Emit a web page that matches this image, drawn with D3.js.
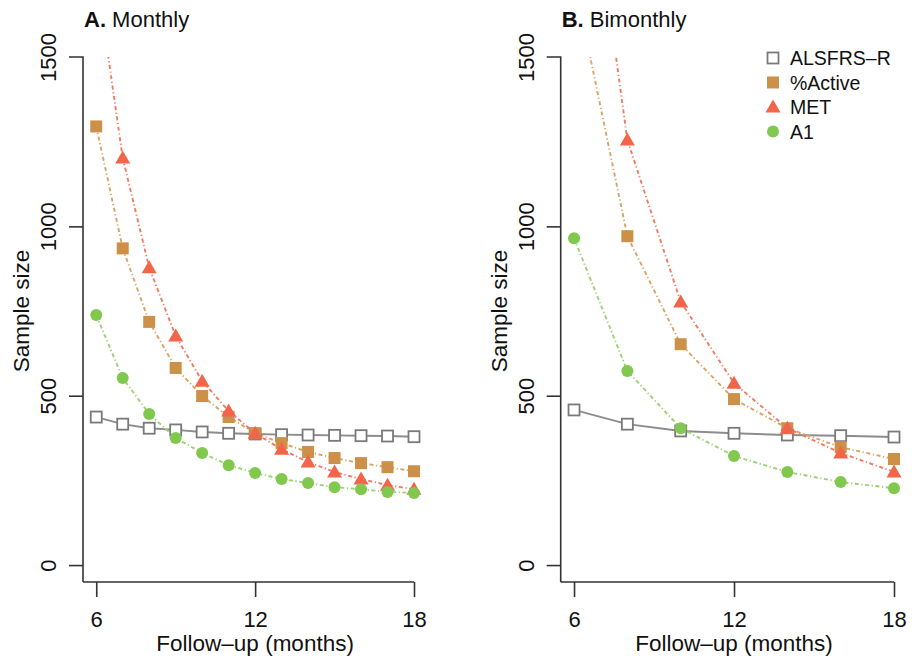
<!DOCTYPE html>
<html>
<head>
<meta charset="utf-8">
<script src="https://cdn.jsdelivr.net/npm/d3@7"></script>
<style>
  html, body { margin: 0; padding: 0; background: #fff; }
  svg { display: block; font-family: "Liberation Sans", Arial, Helvetica, sans-serif; }
</style>
</head>
<body>
<svg id="chart" width="912" height="665"></svg>
<script>
// ---- data ----
const monthsA = [6, 7, 8, 9, 10, 11, 12, 13, 14, 15, 16, 17, 18];
const alsfrsA = [437, 416, 404, 399, 393, 389, 387, 385, 384, 383, 382, 381, 379];
const activeA = [1295, 935, 718, 582, 499, 437, 389, 360, 334, 316, 301, 289, 277];
const metA    = [1750, 1202, 878, 676, 543, 455, 389, 342, 304, 275, 254, 236, 224];
const a1A     = [738, 552, 446, 375, 331, 295, 272, 254, 242, 230, 224, 216, 213];

const monthsB = [6, 8, 10, 12, 14, 16, 18];
const alsfrsB = [458, 416, 396, 389, 384, 382, 378];
const activeB = [1730, 971, 652, 490, 404, 348, 313];
const metB    = [2410, 1255, 777, 537, 404, 331, 275];
const a1B     = [965, 573, 404, 322, 275, 245, 227];

const seriesNames = ["ALSFRS\u2013R", "%Active", "MET", "A1"];
const panelTitles = [["A.", " Monthly"], ["B.", " Bimonthly"]];
const xTicks = [6, 12, 18];
const yTicks = [0, 500, 1000, 1500];
const xLabel = "Follow\u2013up (months)";
const yLabel = "Sample size";

// ---- styles ----
const styles = [
  { color: "#7a7a7a", line: "#8c8c8c", shape: "square-open", dash: null },
  { color: "#cc9048", line: "#d8a466", shape: "square", dash: "4,2.6,1.2,2.6" },
  { color: "#f2654a", line: "#f47a5e", shape: "triangle", dash: "4,2.6,1.2,2.6" },
  { color: "#80c84e", line: "#9ad372", shape: "circle", dash: "4,2.6,1.2,2.6" }
];

const svg = d3.select("#chart");

const panels = [
  { months: monthsA, vals: [alsfrsA, activeA, metA, a1A], x0: 83, x1: 414, title: panelTitles[0], legend: false, id: "A" },
  { months: monthsB, vals: [alsfrsB, activeB, metB, a1B], x0: 560.7, x1: 894, title: panelTitles[1], legend: true, id: "B" }
];

const yTop = 57, yBot = 582;

function drawMarker(g, shape, color, cx, cy) {
  if (shape === "square-open") {
    g.append("rect").attr("x", cx - 5.5).attr("y", cy - 5.5).attr("width", 11).attr("height", 11)
      .attr("fill", "#fff").attr("stroke", color).attr("stroke-width", 1.8);
  } else if (shape === "square") {
    g.append("rect").attr("x", cx - 6).attr("y", cy - 6).attr("width", 12).attr("height", 12)
      .attr("fill", color);
  } else if (shape === "triangle") {
    g.append("path").attr("d", `M${cx},${cy - 7.5}L${cx + 7.5},${cy + 5.5}L${cx - 7.5},${cy + 5.5}Z`)
      .attr("fill", color);
  } else {
    g.append("circle").attr("cx", cx).attr("cy", cy).attr("r", 6).attr("fill", color);
  }
}

panels.forEach((p, pi) => {
  const x = d3.scaleLinear().domain([5.5, 18]).range([p.x0, p.x1]);
  const y = d3.scaleLinear().domain([-50, 1500]).range([yBot, yTop]);

  const g = svg.append("g");

  const clipId = "clip" + p.id;
  svg.append("clipPath").attr("id", clipId).append("rect")
    .attr("x", p.x0 - 10).attr("y", yTop).attr("width", p.x1 - p.x0 + 20).attr("height", yBot - yTop + 10);

  // axes
  const yAxis = d3.axisLeft(y).tickValues(yTicks).tickSize(14).tickPadding(6).tickFormat(d3.format("d"));
  const gy = g.append("g").attr("transform", `translate(${p.x0},0)`).call(yAxis);
  gy.select(".domain").attr("d", `M-14,${y(1500)}H0V${yBot}`).attr("stroke", "#333").attr("stroke-width", 1.6);
  gy.selectAll(".tick line").attr("stroke", "#333").attr("stroke-width", 1.6);
  gy.selectAll(".tick").filter(d => d === 1500).select("line").remove();
  gy.selectAll(".tick text")
    .attr("font-size", 22).attr("fill", "#111")
    .attr("text-anchor", "middle")
    .attr("transform", "rotate(-90)")
    .attr("x", 0).attr("dy", 0)
    .attr("y", -27);

  const xAxis = d3.axisBottom(x).tickValues(xTicks).tickSize(15).tickPadding(14).tickFormat(d3.format("d"));
  const gx = g.append("g").attr("transform", `translate(0,${yBot})`).call(xAxis);
  gx.select(".domain").attr("d", `M${p.x0},0H${p.x1}`).attr("stroke", "#333").attr("stroke-width", 1.6);
  gx.selectAll(".tick line").attr("stroke", "#333").attr("stroke-width", 1.6);
  gx.selectAll(".tick text").attr("font-size", 22).attr("fill", "#111").attr("dy", "0.71em");

  // axis titles
  g.append("text").attr("x", (x(6) + x(18)) / 2).attr("y", 651)
    .attr("text-anchor", "middle").attr("font-size", 22.5).attr("fill", "#111").text(xLabel);
  g.append("text").attr("transform", `translate(${p.x0 - 54},${(yTop + yBot - 17) / 2}) rotate(-90)`)
    .attr("text-anchor", "middle").attr("font-size", 22.5).attr("fill", "#111").text(yLabel);

  // panel title
  const t = g.append("text").attr("x", p.x0 + 1).attr("y", 27).attr("font-size", 22).attr("fill", "#111");
  t.append("tspan").attr("font-weight", "bold").text(p.title[0]);
  t.append("tspan").text(p.title[1]);

  // series
  const plot = g.append("g").attr("clip-path", `url(#${clipId})`);
  const order = [0, 1, 2, 3];
  order.forEach(si => {
    const st = styles[si];
    const data = p.months.map((m, i) => [m, p.vals[si][i]]);
    const line = d3.line().x(d => x(d[0])).y(d => y(d[1]));
    plot.append("path").datum(data).attr("d", line)
      .attr("fill", "none").attr("stroke", st.line).attr("stroke-width", 1.9)
      .attr("stroke-dasharray", st.dash);
  });
  order.forEach(si => {
    const st = styles[si];
    p.months.forEach((m, i) => {
      const v = p.vals[si][i];
      if (v <= 1500) drawMarker(plot, st.shape, st.color, x(m), y(v));
    });
  });

  // legend
  if (p.legend) {
    const lg = g.append("g");
    seriesNames.forEach((name, i) => {
      const cy = 58 + i * 24.5;
      drawMarker(lg, styles[i].shape, styles[i].color, 773, cy);
      lg.append("text").attr("x", 790).attr("y", cy + 7).attr("font-size", 19.5).attr("fill", "#111").text(name);
    });
  }
});
</script>
</body>
</html>
